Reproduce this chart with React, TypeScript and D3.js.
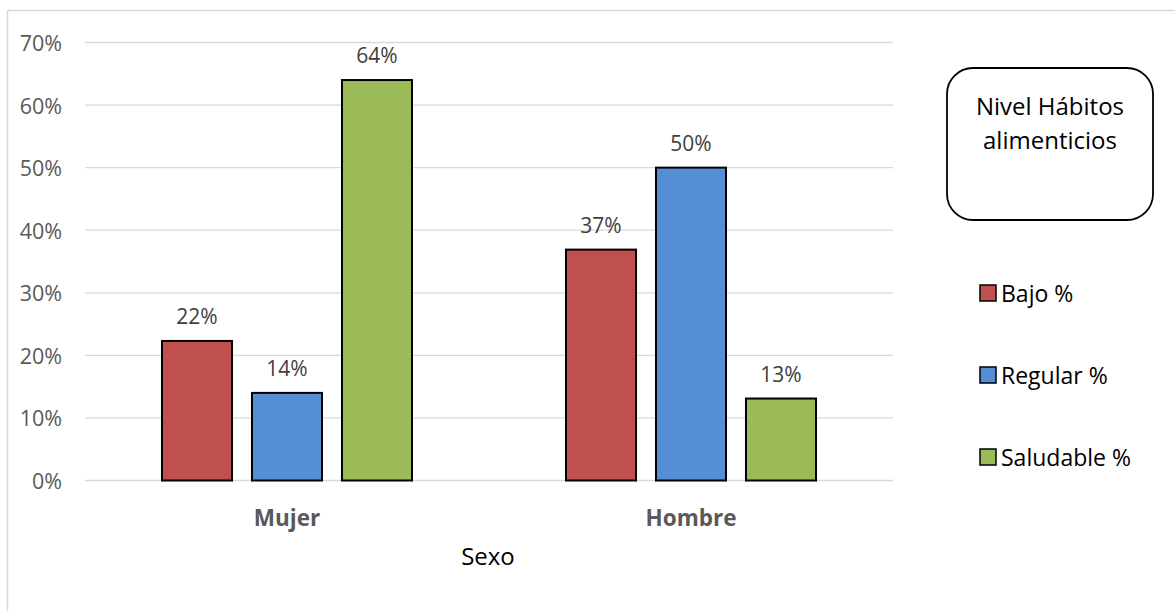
import React from "react";
import * as d3 from "d3";

const categories = ["Mujer", "Hombre"];
const seriesNames = ["Bajo %", "Regular %", "Saludable %"];
const seriesColors = ["#C0504D", "#558ED5", "#9BBB59"];
const bajo = [22.3, 36.9];
const regular = [14.0, 50.0];
const saludable = [64.0, 13.1];
const labelsBajo = ["22%", "37%"];
const labelsRegular = ["14%", "50%"];
const labelsSaludable = ["64%", "13%"];
const yTicks = [0, 10, 20, 30, 40, 50, 60, 70];

const seriesValues = [bajo, regular, saludable];
const seriesLabels = [labelsBajo, labelsRegular, labelsSaludable];

const W = 1175;
const H = 611;
const FONT = "'Open Sans', 'Noto Sans', sans-serif";

export default function App() {
  const x0 = d3.scaleBand<string>().domain(categories).range([85, 893]).padding(0);
  const groupW = 250;
  const x1 = d3
    .scaleBand<string>()
    .domain(seriesNames)
    .range([0, groupW])
    .paddingInner(0.222)
    .paddingOuter(0);
  const y = d3.scaleLinear().domain([0, 70]).range([480.5, 42.5]);

  return (
    <svg
      width={W}
      height={H}
      style={{ position: "absolute", left: 0, top: 0, background: "#fff" }}
      fontFamily={FONT}
    >
      <rect x={0} y={0} width={W} height={H} fill="#fff" />
      {/* chart border */}
      <line x1={7.5} y1={10.5} x2={W} y2={10.5} stroke="#D9D9D9" strokeWidth={1.5} />
      <line x1={7.5} y1={10.5} x2={7.5} y2={H} stroke="#D9D9D9" strokeWidth={1.5} />

      {/* gridlines */}
      {yTicks.map((t) => (
        <line
          key={"g" + t}
          x1={85}
          x2={893}
          y1={y(t)}
          y2={y(t)}
          stroke="#D9D9D9"
          strokeWidth={1.3}
        />
      ))}
      {/* y tick labels */}
      {yTicks.map((t) => (
        <text
          key={"t" + t}
          x={62}
          y={y(t)}
          textAnchor="end"
          dominantBaseline="central"
          fontSize={21.5}
          fill="#595959"
        >
          {t + "%"}
        </text>
      ))}

      {/* bars */}
      {categories.map((c, ci) => {
        const gx = (x0(c) as number) + (x0.bandwidth() - groupW) / 2;
        return (
          <g key={c}>
            {seriesNames.map((s, si) => {
              const v = seriesValues[si][ci];
              const bx = gx + (x1(s) as number);
              const by = y(v);
              return (
                <g key={s}>
                  <rect
                    x={bx}
                    y={by}
                    width={x1.bandwidth()}
                    height={y(0) - by}
                    fill={seriesColors[si]}
                    stroke="#000"
                    strokeWidth={2}
                  />
                  <text
                    x={bx + x1.bandwidth() / 2}
                    y={by - 25}
                    textAnchor="middle"
                    dominantBaseline="central"
                    fontSize={21}
                    fill="#404040"
                  >
                    {seriesLabels[si][ci]}
                  </text>
                </g>
              );
            })}
            <text
              x={(x0(c) as number) + x0.bandwidth() / 2}
              y={517}
              textAnchor="middle"
              dominantBaseline="central"
              fontSize={22.5}
              fontWeight="bold"
              fill="#595959"
            >
              {c}
            </text>
          </g>
        );
      })}

      {/* x axis title */}
      <text x={488} y={555} textAnchor="middle" dominantBaseline="central" fontSize={24} fill="#000">
        Sexo
      </text>

      {/* legend title box */}
      <rect x={947} y={68} width={206} height={152} rx={26} ry={26} fill="#fff" stroke="#000" strokeWidth={1.8} />
      <text x={1050} y={105} textAnchor="middle" dominantBaseline="central" fontSize={24} fill="#000">
        Nivel Hábitos
      </text>
      <text x={1050} y={139} textAnchor="middle" dominantBaseline="central" fontSize={24} fill="#000">
        alimenticios
      </text>

      {/* legend items */}
      {seriesNames.map((s, i) => {
        const cy = 293 + i * 82;
        return (
          <g key={"l" + s}>
            <rect x={980} y={cy - 8} width={16} height={16} fill={seriesColors[i]} stroke="#000" strokeWidth={1.5} />
            <text x={1001} y={cy} dominantBaseline="central" fontSize={23} fill="#000">
              {s}
            </text>
          </g>
        );
      })}
    </svg>
  );
}
